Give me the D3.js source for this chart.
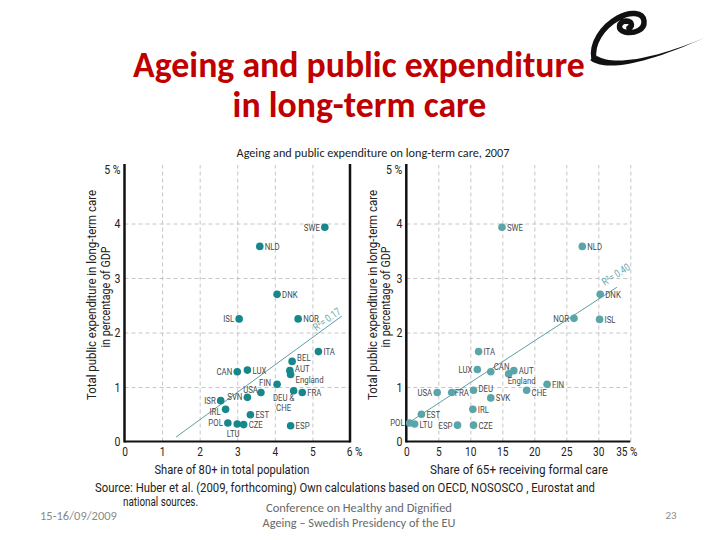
<!DOCTYPE html>
<html><head><meta charset="utf-8">
<script src="https://cdn.jsdelivr.net/npm/d3@7"></script>
<style>body{margin:0;background:#fff} svg{display:block}</style>
</head><body><svg id="c" width="720" height="540"></svg>
<script>
// ---------------- data ----------------
const leftCodes = ["SWE","NLD","DNK","ISL","NOR","ITA","BEL","AUT","England","CAN","LUX","FIN","USA","DEU & CHE","FRA","SVN","ISR","IRL","EST","POL","LTU","CZE","ESP"];
const leftX     = [5.33, 3.60, 4.06, 3.05, 4.62, 5.16, 4.46, 4.40, 4.42, 3.00, 3.27, 4.06, 3.63, 4.50, 4.73, 3.27, 2.56, 2.69, 3.35, 2.75, 3.00, 3.17, 4.42];
const leftY     = [3.93, 3.58, 2.70, 2.25, 2.25, 1.65, 1.47, 1.30, 1.23, 1.28, 1.31, 1.05, 0.90, 0.93, 0.90, 0.81, 0.75, 0.59, 0.49, 0.34, 0.32, 0.31, 0.29];

const rightCodes = ["SWE","NLD","DNK","NOR","ISL","ITA","LUX","CAN","AUT","England","FIN","CHE","USA","FRA","DEU","SVK","IRL","EST","POL","LTU","ESP","CZE"];
const rightX     = [14.95, 27.5, 30.3, 26.2, 30.2, 11.3, 11.1, 13.2, 16.8, 16.0, 22.0, 18.8, 4.83, 7.1, 10.5, 13.2, 10.4, 2.36, 0.52, 1.3, 8.0, 10.5];
const rightY     = [3.93, 3.58, 2.70, 2.26, 2.24, 1.65, 1.32, 1.28, 1.30, 1.24, 1.05, 0.94, 0.90, 0.90, 0.94, 0.80, 0.59, 0.50, 0.34, 0.32, 0.30, 0.30];

const leftTrendX = [1.37, 5.78], leftTrendY = [0.08, 2.30];
const rightTrendX = [0.3, 32.9], rightTrendY = [0.34, 2.83];
const leftR2 = "R²= 0.17", rightR2 = "R²= 0.40";

const yTicks = [0, 1, 2, 3, 4, 5];
const leftXTicks = [0, 1, 2, 3, 4, 5, 6];
const rightXTicks = [0, 5, 10, 15, 20, 25, 30, 35];

const titleLines = ["Ageing and public expenditure", "in long-term care"];
const subtitle = "Ageing and public expenditure on long-term care, 2007";
const yTitleLines = ["Total public expenditure in long-term care", "in percentage of GDP"];
const leftXTitle = "Share of 80+ in total population";
const rightXTitle = "Share of 65+ receiving formal care";
const sourceLines = ["Source: Huber et al. (2009, forthcoming) Own calculations based on OECD, NOSOSCO , Eurostat and", "national sources."];
const dateText = "15-16/09/2009";
const confLines = ["Conference on Healthy and Dignified", "Ageing \u2013 Swedish Presidency of the EU"];
const pageText = "23";

// ---------------- label layout (relative offsets, px) ----------------
const leftLabelPos = {
  "SWE":["end",-5,3.5], "ISL":["end",-5,3.5], "CAN":["end",-5,3.5], "FIN":["end",-6,2],
  "USA":["end",-3,0.5], "SVN":["end",-5,2.5], "ISR":["end",-5,3], "IRL":["end",-5,5.5],
  "POL":["end",-5,3.5], "LTU":["middle",-4,13], "DEU & CHE":["middle",-10,10],
  "BEL":["start",5,-0.5], "AUT":["start",5,1.5], "England":["start",5,9]
};
const rightLabelPos = {
  "NOR":["end",-5,3.5], "USA":["end",-5,3.5], "LUX":["end",-5,3.5], "POL":["end",-5,3.5],
  "ESP":["end",-5,3.5], "CAN":["start",3,-2], "England":["start",-1,10], "DEU":["start",5,2],
  "FRA":["start",3,3.5], "CHE":["start",5,5.5]
};

// ---------------- drawing ----------------
const svg = d3.select("#c");
const NARROW = "Roboto, 'Liberation Sans', sans-serif";
const CAL = "Carlito, Lato, 'Open Sans', sans-serif";

function fitWidth(sel, w) {
  const n = sel.node(); const fs = parseFloat(sel.attr("font-size"));
  const cur = n.getComputedTextLength();
  if (cur > 0) sel.attr("font-size", (fs * w / cur).toFixed(2));
}
// squeeze glyphs horizontally (condensed look) keeping the height
function condense(sel, f) {
  sel.each(function() {
    const L = this.getComputedTextLength();
    if (L > 0) { this.setAttribute("textLength", (L * f).toFixed(2)); this.setAttribute("lengthAdjust", "spacingAndGlyphs"); }
  });
}
function squeezeTo(sel, w) {
  sel.attr("textLength", w).attr("lengthAdjust", "spacingAndGlyphs");
}

// title
const t1 = svg.append("text").attr("x", 359).attr("y", 77).attr("text-anchor","middle")
  .attr("font-family", CAL).attr("font-weight","bold").attr("font-size",30).attr("fill","#c00000").text(titleLines[0]);
fitWidth(t1, 452);
svg.append("text").attr("x", 359.5).attr("y", 117).attr("text-anchor","middle")
  .attr("font-family", CAL).attr("font-weight","bold").attr("font-size",t1.attr("font-size")).attr("fill","#c00000").text(titleLines[1]);
const st = svg.append("text").attr("x", 373).attr("y", 157).attr("text-anchor","middle")
  .attr("font-family", CAL).attr("font-size",11).attr("fill","#222").text(subtitle);
fitWidth(st, 273);

// logo (decorative swirl)
const logo = svg.append("g").attr("fill","none").attr("stroke","#111").attr("stroke-linecap","round");
logo.append("path").attr("stroke-width",5.5)
  .attr("d","M594,59 C591,44 602,27 618,18 C630,11 643,12 644,21 C645,30 634,34 625,32 C617,30 618,22 626,21 C632,21 633,26 629,28");
logo.append("path").attr("stroke","none").attr("fill","#111")
  .attr("d","M590,60 C604,71 640,67 706,37 C660,57 615,67 597,56 Z");

function panel(cfg) {
  const g = svg.append("g");
  const x = d3.scaleLinear().domain(cfg.xDomain).range(cfg.xRange);
  const y = d3.scaleLinear().domain([0,5]).range([441.5,169]);
  const h = 441.5 - 169;
  // vertical grid
  g.append("g").attr("transform","translate(0,441.5)")
    .call(d3.axisBottom(x).tickValues(cfg.xTicks.filter(v => v > cfg.xDomain[0] && (cfg.dashRight ? true : v < cfg.xDomain[1]))).tickSize(-(h+4)).tickFormat(""))
    .call(s => s.select(".domain").remove())
    .call(s => s.selectAll("line").attr("stroke","#b8b8b8").attr("stroke-dasharray","4,3").attr("stroke-width",0.8));
  // horizontal grid
  g.append("g").attr("transform",`translate(${cfg.xRange[0]},0)`)
    .call(d3.axisLeft(y).tickValues([1,2,3,4]).tickSize(-(cfg.xRange[1]-cfg.xRange[0])).tickFormat(""))
    .call(s => s.select(".domain").remove())
    .call(s => s.selectAll("line").attr("stroke","#b8b8b8").attr("stroke-dasharray","4,3").attr("stroke-width",0.8));
  // axis labels
  const xa = g.append("g").attr("transform","translate(0,441.5)")
    .call(d3.axisBottom(x).tickValues(cfg.xTicks).tickSize(0).tickPadding(5)
      .tickFormat(d => d === cfg.xDomain[1] ? d + " %" : d));
  xa.select(".domain").remove();
  xa.selectAll("text").attr("font-family", NARROW).attr("font-size",13).attr("fill","#222");
  xa.selectAll("text").filter(d => d === cfg.xDomain[1]).attr("dx", cfg.lastDx);
  condense(xa.selectAll("text"), 0.78);
  const ya = g.append("g").attr("transform",`translate(${cfg.xRange[0]},0)`)
    .call(d3.axisLeft(y).tickValues(yTicks).tickSize(0).tickPadding(4)
      .tickFormat(d => d === 5 ? "5 %" : d));
  ya.select(".domain").remove();
  ya.selectAll("text").attr("font-family", NARROW).attr("font-size",13.5).attr("fill","#222");
  condense(ya.selectAll("text"), 0.78);
  // axis lines
  g.append("line").attr("x1",cfg.xRange[0]).attr("x2",cfg.xRange[0]).attr("y1",164).attr("y2",442.5).attr("stroke","#111").attr("stroke-width",2.5);
  g.append("line").attr("x1",cfg.xRange[0]).attr("x2",cfg.xRange[1]).attr("y1",441.5).attr("y2",441.5).attr("stroke","#111").attr("stroke-width",1.8);
  if (cfg.solidRight)
    g.append("line").attr("x1",cfg.xRange[1]).attr("x2",cfg.xRange[1]).attr("y1",164).attr("y2",442.5).attr("stroke","#111").attr("stroke-width",2.5);
  // trend
  g.append("line").attr("x1",x(cfg.tx[0])).attr("y1",y(cfg.ty[0])).attr("x2",x(cfg.tx[1])).attr("y2",y(cfg.ty[1]))
    .attr("stroke","#5e9fa3").attr("stroke-width",1);
  const ang = Math.atan2(y(cfg.ty[1]) - y(cfg.ty[0]), x(cfg.tx[1]) - x(cfg.tx[0])) * 180 / Math.PI;
  const r2 = g.append("text").attr("transform",`translate(${x(cfg.tx[1]) + cfg.r2Off[0]},${y(cfg.ty[1]) + cfg.r2Off[1]}) rotate(${ang})`)
    .attr("text-anchor","middle").attr("dy","0.35em").attr("font-family", NARROW).attr("font-size",10.5).attr("fill","#6aa7aa").text(cfg.r2);
  condense(r2, 0.8);
  // points
  const data = cfg.codes.map((c,i) => ({c, x: cfg.xs[i], y: cfg.ys[i]}));
  g.selectAll("circle.pt").data(data).join("circle").attr("class","pt")
    .attr("cx", d => x(d.x)).attr("cy", d => y(d.y)).attr("r", 3.8).attr("fill", cfg.color);
  // labels
  data.forEach(d => {
    const p = cfg.pos[d.c] || ["start",5,3.5];
    const lines = d.c === "DEU & CHE" ? ["DEU &","CHE"] : [d.c];
    lines.forEach((ln, k) => {
      const lt = g.append("text").attr("x", x(d.x) + p[1]).attr("y", y(d.y) + p[2] + k*10.5)
        .attr("text-anchor", p[0]).attr("font-family", NARROW).attr("font-size",9.5)
        .attr("fill","#4a4a4a").text(ln);
      condense(lt, 0.82);
    });
  });
  // axis titles
  cfg.ytx.forEach((xx, k) => {
    const tt = g.append("text").attr("transform",`translate(${xx},${k===0?295:297}) rotate(-90)`)
      .attr("text-anchor","middle").attr("font-family", NARROW).attr("font-size",13.5).attr("fill","#222").text(yTitleLines[k]);
    squeezeTo(tt, k === 0 ? 210 : 101);
  });
  const xt = g.append("text").attr("x", cfg.xtCx).attr("y", 474).attr("text-anchor","middle")
    .attr("font-family", NARROW).attr("font-size",13.5).attr("fill","#222").text(cfg.xTitle);
  squeezeTo(xt, cfg.xtW);
}

panel({xDomain:[0,6], xRange:[124.5,350], xTicks:leftXTicks, codes:leftCodes, xs:leftX, ys:leftY,
  tx:leftTrendX, ty:leftTrendY, r2:leftR2, r2Off:[-15,3], color:"#17878c", pos:leftLabelPos, solidRight:true, dashRight:false,
  ytx:[96,110], xTitle:leftXTitle, xtCx:232, xtW:155, lastDx:4});
panel({xDomain:[0,35], xRange:[406.3,630.3], xTicks:rightXTicks, codes:rightCodes, xs:rightX, ys:rightY,
  tx:rightTrendX, ty:rightTrendY, r2:rightR2, r2Off:[-1,-13], color:"#5aa5a9", pos:rightLabelPos, solidRight:false, dashRight:true,
  ytx:[377,390], xTitle:rightXTitle, xtCx:519, xtW:178, lastDx:-4});

// footer
const s1 = svg.append("text").attr("x",95).attr("y",492).attr("font-family",NARROW)
  .attr("font-size",12).attr("fill","#222").text(sourceLines[0]);
squeezeTo(s1, 500);
const s2 = svg.append("text").attr("x",123).attr("y",506).attr("font-family",NARROW)
  .attr("font-size",12).attr("fill","#222").text(sourceLines[1]);
condense(s2, 0.82);
const dt = svg.append("text").attr("x",40).attr("y",520).attr("font-family",CAL).attr("font-size",11).attr("fill","#8a8a8a").text(dateText);
fitWidth(dt, 77);
confLines.forEach((l,k) => {
  const c = svg.append("text").attr("x",359).attr("y",512 + k*15).attr("text-anchor","middle")
    .attr("font-family",CAL).attr("font-size",11).attr("fill","#6a6a6a").text(l);
  fitWidth(c, k === 0 ? 186 : 193);
});
svg.append("text").attr("x",671).attr("y",519).attr("text-anchor","middle").attr("font-family",CAL)
  .attr("font-size",11).attr("fill","#8a8a8a").text(pageText);
</script></body></html>
